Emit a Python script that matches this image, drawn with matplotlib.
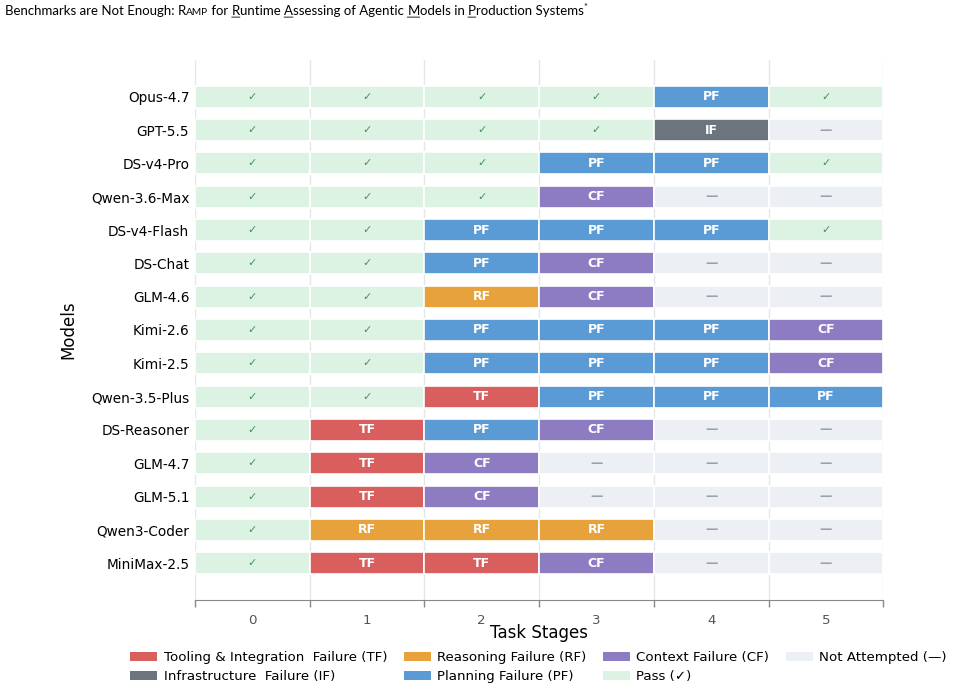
import numpy as np
import matplotlib
matplotlib.use("Agg")
import matplotlib.pyplot as plt
from matplotlib.patches import Patch

plt.rcParams['font.family'] = ['DejaVu Sans']

models = ["Opus-4.7", "GPT-5.5", "DS-v4-Pro", "Qwen-3.6-Max", "DS-v4-Flash",
          "DS-Chat", "GLM-4.6", "Kimi-2.6", "Kimi-2.5", "Qwen-3.5-Plus",
          "DS-Reasoner", "GLM-4.7", "GLM-5.1", "Qwen3-Coder", "MiniMax-2.5"]
stages = [0, 1, 2, 3, 4, 5]
outcomes = [
    ["P", "P", "P", "P", "PF", "P"],
    ["P", "P", "P", "P", "IF", "NA"],
    ["P", "P", "P", "PF", "PF", "P"],
    ["P", "P", "P", "CF", "NA", "NA"],
    ["P", "P", "PF", "PF", "PF", "P"],
    ["P", "P", "PF", "CF", "NA", "NA"],
    ["P", "P", "RF", "CF", "NA", "NA"],
    ["P", "P", "PF", "PF", "PF", "CF"],
    ["P", "P", "PF", "PF", "PF", "CF"],
    ["P", "P", "TF", "PF", "PF", "PF"],
    ["P", "TF", "PF", "CF", "NA", "NA"],
    ["P", "TF", "CF", "NA", "NA", "NA"],
    ["P", "TF", "CF", "NA", "NA", "NA"],
    ["P", "RF", "RF", "RF", "NA", "NA"],
    ["P", "TF", "TF", "CF", "NA", "NA"],
]

colors = {"TF": "#d95f5f", "RF": "#e8a23c", "CF": "#8e7cc3", "PF": "#5b9bd5",
          "IF": "#6c757d", "P": "#dcf2e3", "NA": "#eceff4"}
legend_labels = {"TF": "Tooling & Integration  Failure (TF)",
                 "IF": "Infrastructure  Failure (IF)",
                 "RF": "Reasoning Failure (RF)",
                 "PF": "Planning Failure (PF)",
                 "CF": "Context Failure (CF)",
                 "P": "Pass (\u2713)",
                 "NA": "Not Attempted (\u2014)"}

fig = plt.figure(figsize=(9.55, 6.91), dpi=100)
ax = fig.add_axes([0.204, 0.132, 0.721, 0.781])

for i, row in enumerate(outcomes):
    for j, code in enumerate(row):
        ax.barh(i, 1, left=stages[j] - 0.5, height=0.66, color=colors[code],
                edgecolor="white", linewidth=1.2, zorder=2)
        if code == "P":
            ax.text(stages[j], i, "\u2713", ha="center", va="center",
                    fontsize=8, color="#4a9060", zorder=3)
        elif code == "NA":
            ax.text(stages[j], i, "\u2014", ha="center", va="center",
                    fontsize=9, color="#9aa0a8", fontweight="bold", zorder=3)
        else:
            ax.text(stages[j], i, code, ha="center", va="center",
                    fontsize=9, color="white", fontweight="bold", zorder=3)

ax.set_xlim(-0.5, 5.5)
ax.set_ylim(len(models) - 1 + 1.1, -1.1)
ax.set_yticks(range(len(models)))
ax.set_yticklabels(models, fontsize=9.8)
ax.tick_params(axis="y", length=0, pad=4)

ax.set_xticks(np.arange(-0.5, 6, 1))
ax.set_xticklabels([])
ax.set_xticks(stages, minor=True)
ax.set_xticklabels([str(s) for s in stages], minor=True, fontsize=9.6, color="#555555")
ax.tick_params(axis="x", which="major", length=5, color="#888888", width=1)
ax.tick_params(axis="x", which="minor", length=0, pad=10)
ax.grid(axis="x", which="major", color="#e4e6ea", linewidth=1, zorder=0)
ax.set_axisbelow(True)

for s in ["top", "right", "left"]:
    ax.spines[s].set_visible(False)
ax.spines["bottom"].set_color("#888888")

ax.set_xlabel("Task Stages", fontsize=12, labelpad=-2)
ax.set_ylabel("Models", fontsize=12, labelpad=10)

order = ["TF", "IF", "RF", "PF", "CF", "P", "NA"]
handles = [Patch(facecolor=colors[k], label=legend_labels[k]) for k in order]
fig.legend(handles=handles, loc="lower center", bbox_to_anchor=(0.564, -0.006), ncol=4,
           frameon=False, fontsize=9.6, handlelength=2.0, handleheight=0.75,
           columnspacing=1.25, handletextpad=0.5, labelspacing=0.45)

# running header, pieces chained left to right
pieces = [("Benchmarks are Not Enough: R", 9.5, False), ("AMP", 7.3, False),
          (" for ", 9.5, False), ("R", 9.5, True), ("untime ", 9.5, False),
          ("A", 9.5, True), ("ssessing of Agentic ", 9.5, False),
          ("M", 9.5, True), ("odels in ", 9.5, False), ("P", 9.5, True),
          ("roduction Systems", 9.5, False), ("*", 6.5, False)]
prev = fig.text(0.005, 0.979, pieces[0][0], fontsize=pieces[0][1],
                family="Lato", va="baseline")
for txt, size, under in pieces[1:]:
    dy = 3 if txt == "*" else 0
    prev = plt.annotate(txt, xy=(1, 0), xycoords=prev, xytext=(0, dy),
                        textcoords="offset points", fontsize=size, family="Lato",
                        va="bottom", ha="left", annotation_clip=False)
    if under:
        plt.annotate("", xy=(1, -0.05), xycoords=prev, xytext=(0, -0.05),
                     textcoords=prev, annotation_clip=False,
                     arrowprops=dict(arrowstyle="-", lw=0.6, color="black",
                                     shrinkA=0, shrinkB=0))

fig.savefig("out.png", dpi=100)
